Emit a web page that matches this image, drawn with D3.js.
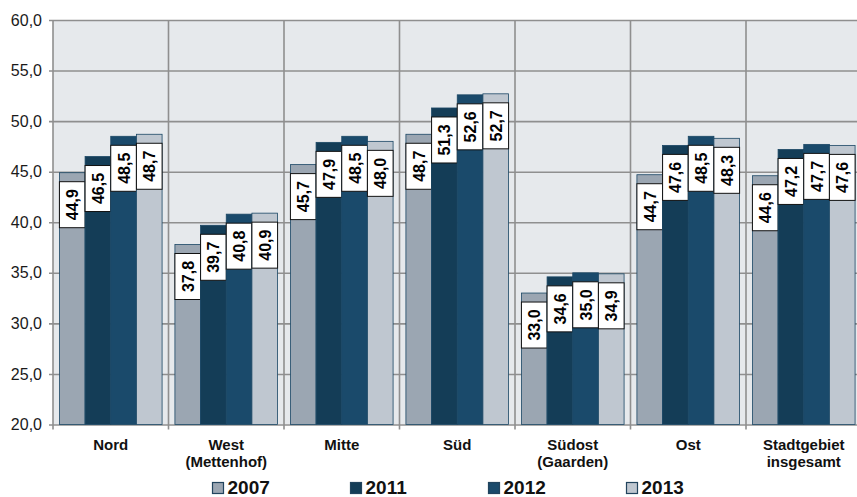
<!DOCTYPE html>
<html lang="de">
<head>
    <meta charset="utf-8">
    <title>Werte nach Stadtteil 2007-2013</title>
    <style>
        body { margin: 0; background: #fff; }
        svg { display: block; font-family: "Liberation Sans", Arial, sans-serif; }
        .ytick { font-size: 16px; fill: #1a1a1a; }
        .xlab { font-size: 15px; font-weight: bold; fill: #111; }
        .val { font-size: 16px; font-weight: bold; fill: #000; }
        .leg { font-size: 19px; font-weight: bold; fill: #111; }
    </style>
    <script src="https://cdn.jsdelivr.net/npm/d3@7"></script>
</head>
<body>
    <svg></svg>
    <script>
        // data
        var categories = ["Nord", "West (Mettenhof)", "Mitte", "Süd", "Südost (Gaarden)", "Ost", "Stadtgebiet insgesamt"];
        var catLines = [["Nord"], ["West", "(Mettenhof)"], ["Mitte"], ["Süd"], ["Südost", "(Gaarden)"], ["Ost"], ["Stadtgebiet", "insgesamt"]];
        var years = ["2007", "2011", "2012", "2013"];
        var v2007 = [44.9, 37.8, 45.7, 48.7, 33.0, 44.7, 44.6];
        var v2011 = [46.5, 39.7, 47.9, 51.3, 34.6, 47.6, 47.2];
        var v2012 = [48.5, 40.8, 48.5, 52.6, 35.0, 48.5, 47.7];
        var v2013 = [48.7, 40.9, 48.0, 52.7, 34.9, 48.3, 47.6];
        var yTicks = [20, 25, 30, 35, 40, 45, 50, 55, 60];

        var series = [v2007, v2011, v2012, v2013];
        var colors = ["#9ba6b2", "#143d57", "#1a4a6b", "#bfc7d0"];

        var W = 857, H = 497;
        // plot box (right edge runs off the picture, as in the original)
        var pLeft = 53, pRight = 861.5, pTop = 20, pBottom = 424.5;

        var svg = d3.select("svg").attr("width", W).attr("height", H);

        var x0 = d3.scaleBand().domain(categories).range([pLeft, pRight]).padding(0);
        var x1 = d3.scaleBand().domain(years).range([0, x0.bandwidth()])
            .paddingInner(0).paddingOuter(0.25);
        var y = d3.scaleLinear().domain([20, 60]).range([pBottom, pTop]);

        var fmt = function(v) { return d3.format(".1f")(v).replace(".", ","); };

        // plot background
        svg.append("rect")
            .attr("x", pLeft).attr("y", pTop)
            .attr("width", pRight - pLeft).attr("height", pBottom - pTop)
            .attr("fill", "#e6e9ec");

        // horizontal grid + y axis
        var yAxis = svg.append("g")
            .attr("transform", "translate(" + pLeft + ",0)")
            .call(d3.axisLeft(y).tickValues(yTicks).tickFormat(fmt)
                .tickSize(-(pRight - pLeft)).tickPadding(11));
        yAxis.select(".domain").remove();
        yAxis.selectAll(".tick line")
            .attr("x1", -4)
            .attr("stroke", "#8f8f8f").attr("stroke-width", 1.6);
        yAxis.selectAll(".tick text").attr("class", "ytick");
        yAxis.attr("font-size", null).attr("font-family", null);

        // vertical category separators
        var seps = categories.map(function(c) { return x0(c); }).concat([pRight]);
        svg.append("g").selectAll("line")
            .data(seps)
            .enter().append("line")
            .attr("x1", function(d) { return d; })
            .attr("x2", function(d) { return d; })
            .attr("y1", pTop).attr("y2", pBottom + 5)
            .attr("stroke", "#8f8f8f").attr("stroke-width", 1.6);

        // flat table for bars
        var rows = [];
        categories.forEach(function(c, i) {
            years.forEach(function(yr, j) {
                rows.push({cat: c, year: yr, value: series[j][i], color: colors[j]});
            });
        });

        var bw = x1.bandwidth();
        var groups = svg.append("g").selectAll("g")
            .data(rows)
            .enter().append("g")
            .attr("transform", function(d) { return "translate(" + (x0(d.cat) + x1(d.year)) + ",0)"; });

        groups.append("rect")
            .attr("x", 0)
            .attr("width", bw)
            .attr("y", function(d) { return y(d.value); })
            .attr("height", function(d) { return pBottom - y(d.value); })
            .attr("fill", function(d) { return d.color; })
            .attr("stroke", "#1b4765").attr("stroke-width", 0.8);

        // value labels: white boxes a bit below the bar top
        var boxH = 46, boxOff = 9;
        groups.append("rect")
            .attr("x", 0)
            .attr("width", bw)
            .attr("y", function(d) { return y(d.value) + boxOff; })
            .attr("height", boxH)
            .attr("fill", "#fff")
            .attr("stroke", "#111").attr("stroke-width", 1);

        groups.append("text")
            .attr("class", "val")
            .attr("text-anchor", "middle")
            .attr("dominant-baseline", "central")
            .attr("transform", function(d) {
                return "translate(" + (bw / 2 + 0.5) + "," + (y(d.value) + boxOff + boxH / 2) + ") rotate(-90)";
            })
            .text(function(d) { return fmt(d.value); });

        // x labels
        svg.append("g").selectAll("text")
            .data(categories)
            .enter().append("text")
            .attr("class", "xlab")
            .attr("text-anchor", "middle")
            .attr("x", function(d) { return x0(d) + x0.bandwidth() / 2; })
            .attr("y", 450)
            .each(function(d, i) {
                var t = d3.select(this);
                catLines[i].forEach(function(line, k) {
                    t.append("tspan")
                        .attr("x", x0(d) + x0.bandwidth() / 2)
                        .attr("dy", k === 0 ? 0 : 17)
                        .text(line);
                });
            });

        // legend
        var legX = d3.scalePoint().domain(years).range([212, 626]);
        var leg = svg.append("g").selectAll("g")
            .data(years)
            .enter().append("g")
            .attr("transform", function(d) { return "translate(" + legX(d) + ",0)"; });
        leg.append("rect")
            .attr("x", 0.5).attr("y", 482.5)
            .attr("width", 11).attr("height", 11)
            .attr("fill", function(d, i) { return colors[i]; })
            .attr("stroke", "#22445e").attr("stroke-width", 1.2);
        leg.append("text")
            .attr("class", "leg")
            .attr("x", 15.5).attr("y", 494)
            .text(function(d) { return d; });
    </script>
</body>
</html>
